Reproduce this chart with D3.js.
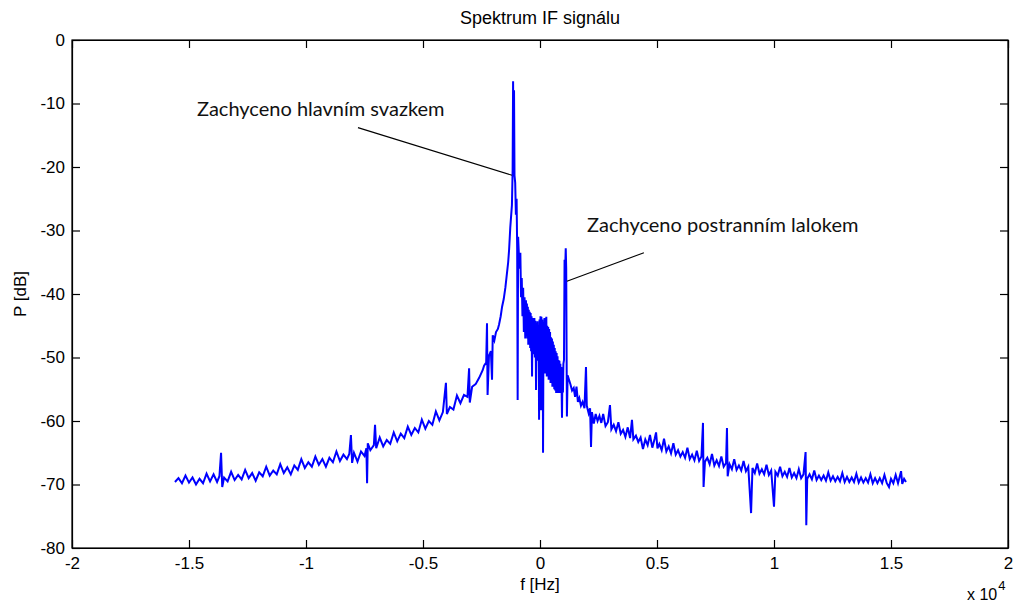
<!DOCTYPE html>
<html>
<head>
<meta charset="utf-8">
<script src="https://cdn.jsdelivr.net/npm/d3@7/dist/d3.min.js"></script>
<style>
  html, body { margin: 0; padding: 0; background: #fff; }
  svg { display: block; }
  .tick text { font-family: "Liberation Sans", Arial, sans-serif; font-size: 17px; fill: #000; }
</style>
</head>
<body>
<svg id="chart" width="1014" height="605"></svg>
<script>
// ---------------- DATA ----------------
const chartTitle = "Spektrum IF signálu";
const xLabel = "f [Hz]";
const yLabel = "P [dB]";
const xTicks = [-20000, -15000, -10000, -5000, 0, 5000, 10000, 15000, 20000];
const xTickLabels = ["-2", "-1.5", "-1", "-0.5", "0", "0.5", "1", "1.5", "2"];
const yTicks = [0, -10, -20, -30, -40, -50, -60, -70, -80];
const yTickLabels = ["0", "-10", "-20", "-30", "-40", "-50", "-60", "-70", "-80"];

// left wing of the spectrum (Hz, dB)
const leftFreq = [-15600,-15450,-15300,-15150,-15000,-14850,-14700,-14550,-14400,-14250,-14100,-13950,-13800,-13700,-13630,-13580,-13500,-13350,-13200,-13050,-12900,-12750,-12600,-12450,-12300,-12150,-12000,-11850,-11700,-11550,-11400,-11250,-11100,-10950,-10800,-10650,-10500,-10350,-10200,-10050,-9900,-9750,-9600,-9450,-9300,-9150,-9000,-8850,-8700,-8550,-8400,-8250,-8150,-8080,-8030,-7950,-7800,-7650,-7500,-7420,-7390,-7360,-7250,-7100,-7050,-7000,-6850,-6700,-6550,-6400,-6250,-6100,-5950,-5800,-5650,-5500,-5350,-5200,-5050,-4900,-4750,-4600,-4450,-4300,-4150,-4020,-3980,-3850,-3700,-3550,-3400,-3250,-3100,-3030,-3000,-2900,-2750,-2600,-2450,-2390,-2300,-2265,-2240,-2180,-2100,-2050,-2020,-1950,-1880,-1800,-1750,-1680,-1620,-1550,-1480,-1420,-1360,-1320,-1270,-1230,-1200];
const leftDb = [-69.6,-69.0,-69.8,-68.6,-69.7,-68.9,-70.0,-69.1,-69.8,-68.3,-69.5,-68.4,-69.6,-68.7,-65.0,-70.4,-68.9,-69.5,-68.0,-69.3,-68.5,-69.2,-67.7,-69.0,-68.2,-69.4,-68.1,-68.7,-67.2,-68.6,-67.8,-68.4,-66.8,-68.2,-67.3,-68.4,-67.0,-67.7,-66.0,-67.4,-66.5,-67.2,-65.6,-66.9,-66.0,-67.2,-65.8,-66.5,-64.8,-66.3,-65.3,-66.0,-65.2,-62.2,-66.6,-65.0,-66.4,-64.8,-65.5,-64.3,-69.8,-63.5,-64.6,-63.8,-60.6,-64.3,-62.6,-64.0,-63.0,-63.6,-61.8,-63.2,-62.0,-62.7,-60.9,-62.2,-61.1,-61.8,-59.8,-61.2,-60.0,-60.6,-58.5,-59.9,-58.6,-54.0,-58.9,-57.8,-58.2,-56.0,-57.2,-55.9,-56.2,-51.7,-57.1,-54.6,-54.2,-53.2,-52.0,-51.3,-50.8,-44.6,-55.9,-49.7,-49.0,-53.5,-46.5,-47.3,-46.0,-45.5,-44.8,-43.5,-42.0,-40.8,-39.0,-37.0,-35.0,-33.0,-29.5,-27.5,-26.0];

// main lobe and its surroundings (Hz, dB)
const centerFreq = [-1170,-1150,-1130,-1110,-1090,-1060,-1030,-1000,-975,-955,-935,-900,-870,-840,-810,-780,-750,-720,-690,-660,-630,-600,-580,-560,-540,-520,-500,-480,-460,-440,-420,-400,-380,-360,-340,-320,-300,-280,-260,-240,-220,-200,-180,-170,-150,-130,-110,-90,-70,-50,-40,-20,0,20,40,60,80,100,120,130,150,170,190,210,230,250,270,290,310,330,350,370,390,410,430,450,470,490,510,530,550,570,590,610,630,650,670,690,710,730,750,770,790,810,830,850,870,890,910,940,960,980,1000,1025,1050,1080,1100,1120,1150,1180,1240];
const centerDb = [-20.5,-6.5,-21.5,-7.9,-21.3,-22.5,-27.5,-25.0,-33.0,-56.7,-31.0,-34.0,-36.0,-33.5,-40.5,-37.5,-43.5,-39.0,-46.0,-40.5,-47.0,-41.0,-46.5,-41.5,-47.0,-42.0,-48.0,-42.5,-47.5,-42.8,-48.5,-43.0,-49.0,-43.5,-53.0,-43.8,-48.5,-44.0,-49.5,-43.8,-50.0,-44.2,-49.0,-55.1,-44.6,-50.5,-44.3,-50.0,-45.0,-51.0,-59.8,-44.0,-51.0,-43.5,-58.3,-43.6,-51.5,-44.0,-52.0,-65.0,-44.5,-52.0,-43.8,-52.5,-44.2,-52.0,-43.6,-53.0,-45.0,-53.0,-45.2,-53.5,-45.5,-53.0,-46.0,-54.0,-46.8,-53.8,-47.0,-54.6,-47.5,-54.5,-48.0,-55.0,-48.5,-55.2,-49.0,-55.6,-49.3,-55.0,-49.8,-55.6,-50.4,-55.4,-50.5,-55.6,-51.0,-55.5,-51.5,-59.5,-52.0,-55.5,-51.0,-50.4,-34.6,-35.5,-32.8,-36.0,-59.3,-52.8,-53.5];

// right wing of the spectrum (Hz, dB)
const rightFreq = [1300,1370,1440,1500,1560,1620,1680,1750,1820,1900,1965,2000,2080,2140,2180,2220,2300,2380,2460,2540,2620,2700,2800,2900,2990,3050,3150,3250,3350,3450,3550,3650,3750,3850,3930,3990,4100,4200,4300,4400,4500,4600,4700,4800,4900,4960,5020,5100,5200,5300,5400,5500,5600,5700,5800,5900,6000,6100,6200,6300,6400,6500,6600,6700,6800,6900,6965,6990,7050,7150,7250,7350,7450,7550,7650,7750,7850,7950,7990,8020,8100,8200,8300,8400,8500,8600,8700,8800,8900,9020,9080,9180,9280,9380,9480,9580,9680,9780,9880,10000,10060,10160,10260,10360,10460,10560,10660,10760,10860,10960,11060,11160,11260,11350,11380,11420,11520,11620,11720,11820,11920,12020,12120,12220,12320,12420,12520,12620,12720,12820,12920,13020,13120,13220,13320,13420,13520,13620,13720,13820,13920,14020,14120,14220,14320,14420,14520,14620,14720,14820,14915,15000,15100,15200,15300,15430,15480,15560,15640];
const rightDb = [-54.2,-55.2,-54.8,-56.2,-54.6,-57.0,-56.4,-57.6,-57.0,-58.0,-51.5,-57.6,-58.8,-58.0,-64.1,-58.6,-60.4,-58.9,-60.0,-59.2,-60.3,-58.9,-60.8,-60.2,-57.5,-61.3,-60.6,-61.6,-60.2,-62.0,-61.4,-62.5,-61.0,-62.7,-59.8,-62.9,-62.3,-63.3,-62.6,-64.4,-62.9,-63.8,-62.2,-64.2,-62.8,-61.8,-64.3,-63.6,-64.6,-62.8,-64.8,-64.0,-65.1,-63.5,-65.3,-64.6,-65.6,-64.9,-65.8,-64.2,-66.0,-65.3,-66.2,-64.7,-66.3,-65.6,-60.3,-70.4,-66.4,-65.8,-66.8,-65.2,-67.0,-66.2,-67.1,-65.6,-67.2,-66.6,-61.1,-68.7,-66.8,-67.6,-66.0,-67.7,-67.0,-67.8,-66.3,-67.9,-67.2,-74.5,-67.4,-68.2,-66.7,-68.3,-67.6,-68.4,-66.9,-68.5,-67.8,-73.5,-68.0,-68.6,-67.2,-68.7,-68.0,-68.8,-67.4,-68.9,-68.2,-69.0,-67.6,-69.0,-68.4,-64.9,-76.4,-69.1,-68.4,-69.2,-67.8,-69.3,-68.6,-69.3,-68.6,-69.4,-68.1,-69.4,-68.7,-69.5,-68.8,-69.5,-68.2,-69.6,-68.8,-69.6,-68.9,-69.6,-68.3,-69.7,-68.9,-69.7,-69.0,-69.7,-68.4,-69.8,-69.0,-69.8,-69.0,-69.8,-68.5,-69.8,-70.4,-69.1,-69.8,-68.5,-69.8,-67.9,-69.9,-69.1,-69.6];

// annotations: text anchor and pointer line, in data units (Hz, dB)
const annoText = ["Zachyceno hlavním svazkem", "Zachyceno postranním lalokem"];
const annoTextF = [-14660, 2010];
const annoTextDb = [-11.95, -30.2];
const annoFromF = [-7780, 4440];
const annoFromDb = [-13.8, -33.5];
const annoToF = [-1200, 1150];
const annoToDb = [-21.3, -38.0];

// ---------------- DRAW ----------------
const svg = d3.select("#chart");
const W = 1014, H = 605;
const m = { left: 72, right: 6, top: 40, bottom: 57 };

const x = d3.scaleLinear().domain([-20000, 20000]).range([m.left, W - m.right]);
const y = d3.scaleLinear().domain([-80, 0]).range([H - m.bottom, m.top]);

const series = [];
leftFreq.forEach((f, i) => series.push({ f, p: leftDb[i] }));
centerFreq.forEach((f, i) => series.push({ f, p: centerDb[i] }));
rightFreq.forEach((f, i) => series.push({ f, p: rightDb[i] }));

// spectrum line
svg.append("path")
  .datum(series)
  .attr("fill", "none")
  .attr("stroke", "#0000ff")
  .attr("stroke-width", 2)
  .attr("stroke-linejoin", "miter")
  .attr("d", d3.line().x(d => x(d.f)).y(d => y(d.p)));

// axes (ticks point inward on all four sides)
const fmtX = d => xTickLabels[xTicks.indexOf(d)];
const fmtY = d => yTickLabels[yTicks.indexOf(d)];
const tickLen = 8;

const gB = svg.append("g").attr("transform", `translate(0,${y(-80)})`)
  .call(d3.axisBottom(x).tickValues(xTicks).tickFormat(fmtX).tickSizeInner(-tickLen).tickSizeOuter(0).tickPadding(9));
const gT = svg.append("g").attr("transform", `translate(0,${y(0)})`)
  .call(d3.axisTop(x).tickValues(xTicks).tickFormat("").tickSizeInner(-tickLen).tickSizeOuter(0));
const gL = svg.append("g").attr("transform", `translate(${x(-20000)},0)`)
  .call(d3.axisLeft(y).tickValues(yTicks).tickFormat(fmtY).tickSizeInner(-tickLen).tickSizeOuter(0).tickPadding(7));
const gR = svg.append("g").attr("transform", `translate(${x(20000)},0)`)
  .call(d3.axisRight(y).tickValues(yTicks).tickFormat("").tickSizeInner(-tickLen).tickSizeOuter(0));

[gB, gT, gL, gR].forEach(g => {
  g.select(".domain").attr("stroke", "#000").attr("stroke-width", 1.2);
  g.selectAll(".tick line").attr("stroke", "#000").attr("stroke-width", 1.2);
});

// frame
svg.append("rect")
  .attr("x", x(-20000)).attr("y", y(0))
  .attr("width", x(20000) - x(-20000)).attr("height", y(-80) - y(0))
  .attr("fill", "none").attr("stroke", "#000").attr("stroke-width", 1.2);

// title and axis labels
const labelFont = '"Liberation Sans", Arial, sans-serif';
svg.append("text").text(chartTitle)
  .attr("x", (x(-20000) + x(20000)) / 2).attr("y", 24)
  .attr("text-anchor", "middle").attr("font-family", labelFont).attr("font-size", 18).attr("fill", "#000");
svg.append("text").text(xLabel)
  .attr("x", (x(-20000) + x(20000)) / 2).attr("y", 590)
  .attr("text-anchor", "middle").attr("font-family", labelFont).attr("font-size", 17).attr("fill", "#000");
svg.append("text").text(yLabel)
  .attr("transform", `translate(26,${(y(0) + y(-80)) / 2}) rotate(-90)`)
  .attr("text-anchor", "middle").attr("font-family", labelFont).attr("font-size", 17).attr("fill", "#000");
const expo = svg.append("text").attr("x", 967).attr("y", 600)
  .attr("font-family", labelFont).attr("font-size", 16).attr("fill", "#000");
expo.append("tspan").text("x 10");
expo.append("tspan").text("4").attr("font-size", 13).attr("dy", -10).attr("dx", 1);

// annotations
annoText.forEach((t, i) => {
  svg.append("line")
    .attr("x1", x(annoFromF[i])).attr("y1", y(annoFromDb[i]))
    .attr("x2", x(annoToF[i])).attr("y2", y(annoToDb[i]))
    .attr("stroke", "#000").attr("stroke-width", 1.1);
  svg.append("text").text(t)
    .attr("x", x(annoTextF[i])).attr("y", y(annoTextDb[i]))
    .attr("font-family", "Lato, 'Open Sans', sans-serif").attr("font-size", 20).attr("fill", "#111");
});
</script>
</body>
</html>
